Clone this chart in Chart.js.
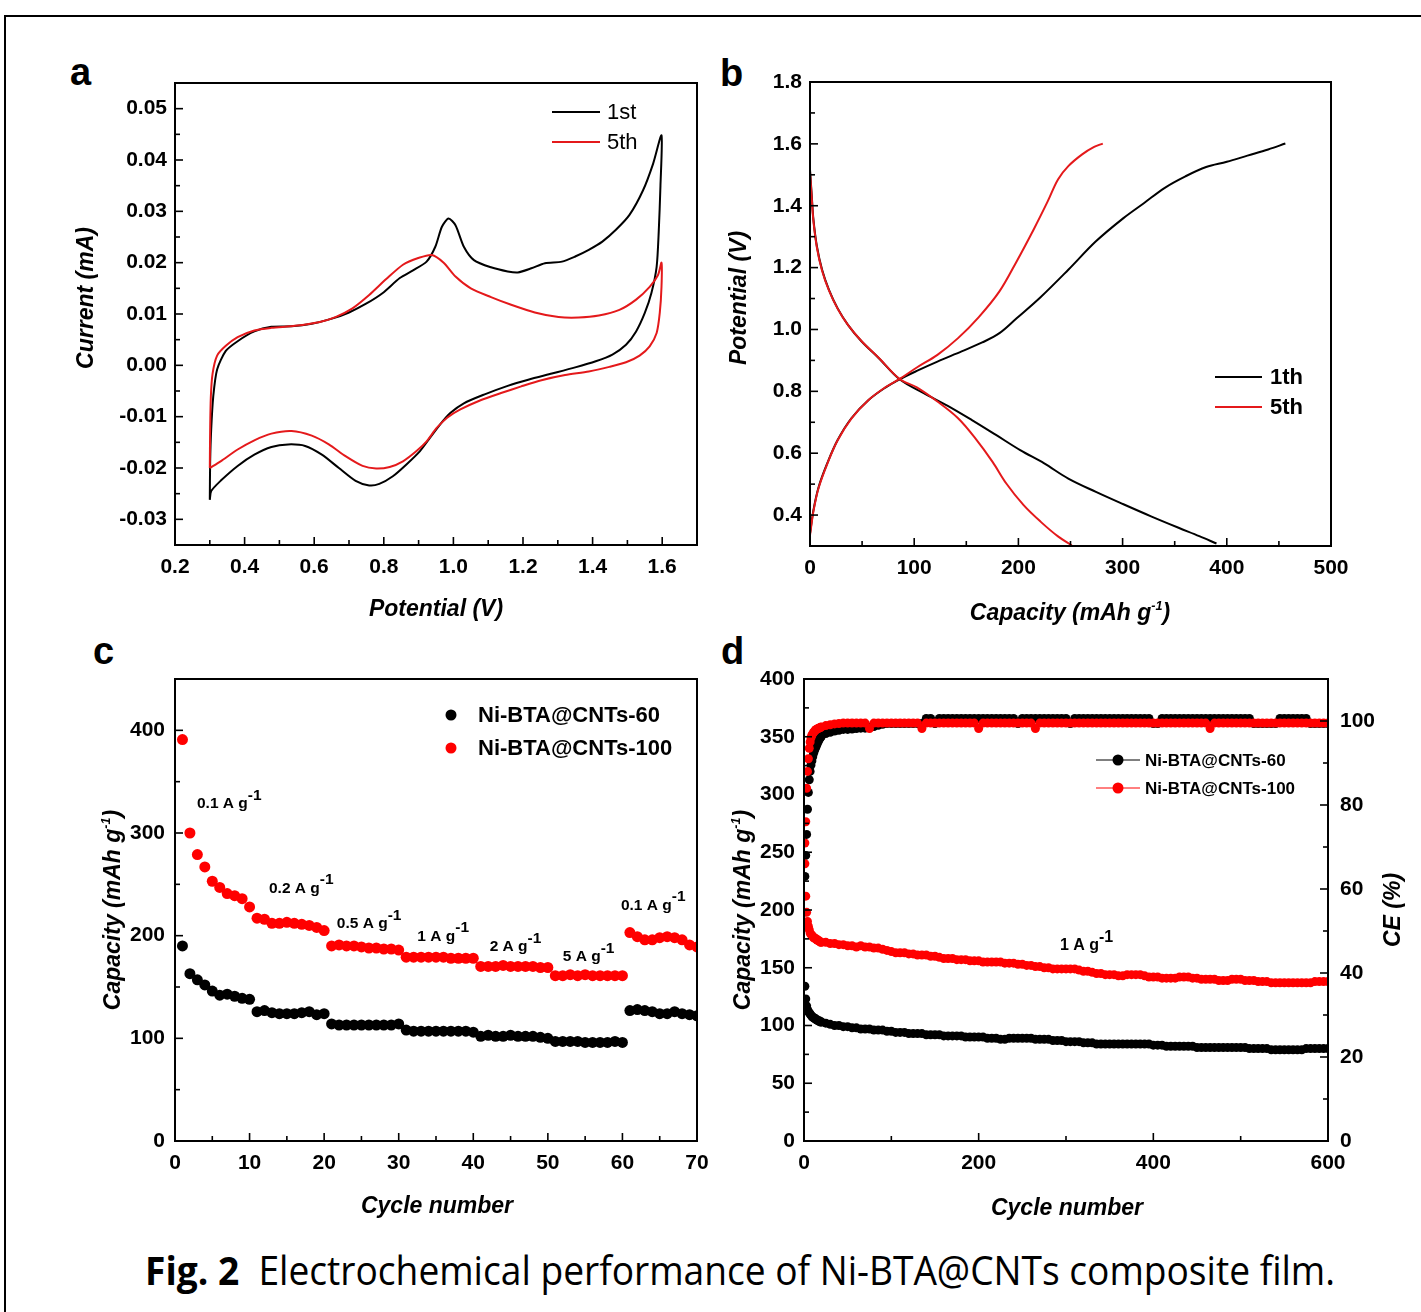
<!DOCTYPE html>
<html><head><meta charset="utf-8">
<script src="https://cdn.jsdelivr.net/npm/chart.js@4.4.0/dist/chart.umd.min.js"></script>
<style>
html,body{margin:0;padding:0;background:#fff;width:1421px;height:1312px;overflow:hidden;position:relative;font-family:"Liberation Sans",Arial,sans-serif;}
#frame{position:absolute;left:4px;top:15px;width:1440px;height:1330px;border:2px solid #000;box-sizing:border-box;}
canvas{position:absolute;}
.lbl{position:absolute;font-weight:bold;font-size:38px;line-height:38px;font-family:"Liberation Sans",Arial,sans-serif;}
#cap{position:absolute;left:145px;top:1245px;white-space:nowrap;font-family:"Open Sans",sans-serif;font-size:40px;line-height:50px;transform-origin:left top;color:#000;}
</style></head><body>
<div id="frame"></div>
<div class="lbl" style="left:70px;top:53px">a</div>
<div class="lbl" style="left:720px;top:54px">b</div>
<div class="lbl" style="left:93px;top:632px">c</div>
<div class="lbl" style="left:721px;top:632px">d</div>
<canvas id="ca" width="690" height="610" style="left:20px;top:20px"></canvas>
<canvas id="cb" width="700" height="610" style="left:710px;top:20px"></canvas>
<canvas id="cc" width="720" height="600" style="left:20px;top:630px"></canvas>
<canvas id="cd" width="700" height="600" style="left:710px;top:630px"></canvas>
<div id="cap"><b>Fig. 2</b>&nbsp; Electrochemical performance of Ni-BTA@CNTs composite film.</div>
<script>
// ---------- Panel a: CV curves ----------
const cv1V = [0.300,0.301,0.304,0.310,0.321,0.346,0.380,0.428,0.477,0.535,0.593,0.651,0.700,0.749,0.797,0.846,0.884,0.923,0.948,0.967,0.986,1.006,1.030,1.059,1.108,1.156,1.185,1.224,1.263,1.312,1.350,1.389,1.428,1.467,1.506,1.545,1.574,1.598,
  1.595,1.590,1.584,1.569,1.550,1.525,1.496,1.457,1.409,1.350,1.283,1.215,1.156,1.088,1.030,0.991,0.962,0.933,0.904,0.865,0.826,0.787,0.758,0.719,0.671,0.622,0.574,0.525,0.477,0.428,0.380,0.331,0.304,0.300];
const cv1I = [-0.0262,-0.0189,-0.0125,-0.0060,-0.0008,0.0028,0.0047,0.0066,0.0075,0.0076,0.0081,0.0091,0.0103,0.0120,0.0141,0.0170,0.0185,0.0202,0.0231,0.0270,0.0286,0.0273,0.0231,0.0205,0.0191,0.0183,0.0181,0.0189,0.0199,0.0202,0.0212,0.0225,0.0241,0.0264,0.0293,0.0341,0.0393,0.0448,
  0.0350,0.0260,0.0192,0.0141,0.0102,0.0066,0.0040,0.0021,0.0008,-0.0004,-0.0016,-0.0028,-0.0040,-0.0057,-0.0074,-0.0093,-0.0115,-0.0141,-0.0167,-0.0193,-0.0216,-0.0231,-0.0234,-0.0225,-0.0200,-0.0174,-0.0157,-0.0154,-0.0159,-0.0174,-0.0196,-0.0225,-0.0245,-0.0262];
const cv5V = [0.300,0.301,0.303,0.308,0.321,0.346,0.380,0.428,0.477,0.545,0.613,0.661,0.710,0.758,0.807,0.855,0.899,0.938,0.972,1.006,1.050,1.108,1.166,1.234,1.302,1.360,1.418,1.477,1.525,1.564,1.588,1.598,
  1.598,1.593,1.584,1.564,1.535,1.496,1.448,1.389,1.321,1.253,1.195,1.137,1.078,1.020,0.982,0.952,0.923,0.894,0.855,0.817,0.778,0.739,0.690,0.642,0.593,0.535,0.477,0.428,0.380,0.331,0.300];
const cv5I = [-0.0200,-0.0126,-0.0061,-0.0016,0.0019,0.0038,0.0055,0.0068,0.0073,0.0077,0.0084,0.0094,0.0111,0.0137,0.0168,0.0196,0.0209,0.0215,0.0200,0.0173,0.0150,0.0133,0.0118,0.0103,0.0094,0.0093,0.0097,0.0108,0.0128,0.0153,0.0176,0.0200,
  0.0153,0.0102,0.0063,0.0037,0.0019,0.0006,-0.0003,-0.0012,-0.0019,-0.0029,-0.0041,-0.0054,-0.0068,-0.0086,-0.0102,-0.0122,-0.0148,-0.0167,-0.0187,-0.0198,-0.0201,-0.0196,-0.0177,-0.0154,-0.0137,-0.0128,-0.0133,-0.0146,-0.0164,-0.0187,-0.0200];
const aXTicks = [0.2,0.4,0.6,0.8,1.0,1.2,1.4,1.6];
const aYTicks = [-0.03,-0.02,-0.01,0,0.01,0.02,0.03,0.04,0.05];

// ---------- Panel b: charge/discharge ----------
const bChgCap1 = [0,3.3,8.3,16.5,26.4,39.7,56.2,72.7,86.0,102.5,122.3,145.5,165.3,181.8,198.3,221.5,247.9,274.4,300.8,320.7,340.5,360.3,380.2,400.0,419.8,439.7,456.2];
const bChgV1   = [0.340,0.416,0.491,0.567,0.642,0.713,0.772,0.813,0.839,0.866,0.896,0.929,0.958,0.988,1.036,1.105,1.193,1.285,1.360,1.409,1.458,1.495,1.525,1.542,1.562,1.582,1.601];
const bDisCap1 = [0,1.7,3.3,6.6,11.6,18.2,26.4,36.4,49.6,66.1,86.0,109.1,132.2,155.4,178.5,201.7,224.8,247.9,274.4,300.8,327.3,353.7,373.6,390.1];
const bDisV1   = [1.517,1.431,1.355,1.269,1.193,1.128,1.069,1.015,0.961,0.907,0.839,0.794,0.753,0.707,0.659,0.610,0.567,0.518,0.475,0.435,0.396,0.359,0.332,0.308];
const bChgCap5 = [0,3.3,8.3,16.5,26.4,39.7,56.2,72.7,86.0,102.5,122.3,142.1,162.0,181.8,198.3,214.9,228.1,238.0,247.9,261.2,272.7,281.0];
const bChgV5   = [0.335,0.412,0.488,0.565,0.641,0.712,0.772,0.814,0.840,0.877,0.918,0.972,1.040,1.123,1.220,1.325,1.414,1.485,1.528,1.566,1.590,1.601];
const bDisCap5 = [0,1.7,3.3,6.6,11.6,18.2,26.4,36.4,49.6,66.1,86.0,102.5,122.3,142.1,158.7,175.2,188.4,205.0,221.5,238.0,251.2];
const bDisV5   = [1.510,1.425,1.350,1.265,1.190,1.126,1.068,1.015,0.962,0.908,0.840,0.813,0.767,0.713,0.648,0.572,0.502,0.432,0.378,0.331,0.302];
const bXTicks = [0,100,200,300,400,500];
const bYTicks = [0.4,0.6,0.8,1.0,1.2,1.4,1.6,1.8];

// ---------- Panel c: rate capability ----------
const cCycles = [1,2,3,4,5,6,7,8,9,10,11,12,13,14,15,16,17,18,19,20,21,22,23,24,25,26,27,28,29,30,31,32,33,34,35,36,37,38,39,40,41,42,43,44,45,46,47,48,49,50,51,52,53,54,55,56,57,58,59,60,61,62,63,64,65,66,67,68,69,70];
const cCap60 = [190,163,157,152,146,142,143,141,139,138, 126,127,125,124,124,124,125,126,123,124, 114,113,113,113,113,113,113,113,113,114, 108,107,107,107,107,107,107,107,107,106, 102,103,102,102,103,102,102,102,101,100, 97,97,97,97,96,96,96,96,97,96, 127,128,127,126,124,124,126,124,123,122];
const cCap100 = [391,300,279,267,253,247,241,239,236,228, 217,216,212,212,213,212,211,210,208,205, 190,191,190,190,189,188,188,187,187,186, 179,179,179,179,179,179,178,178,178,178, 170,170,170,171,170,170,170,170,169,169, 161,161,162,161,162,161,161,161,161,161, 203,199,196,196,198,199,198,196,191,189];
const cRates = ['0.1','0.2','0.5','1','2','5','0.1'];
const cXTicks = [0,10,20,30,40,50,60,70];
const cYTicks = [0,100,200,300,400];

// ---------- Panel d: cycling ----------
const dCycles = [1,2,3,4,5,6,7,8,9,10,11,12,13,14,15,16,17,18,19,20,
 25,30,35,40,45,50,55,60,65,70,75,80,85,90,95,100,105,110,115,120,125,130,135,140,145,150,155,160,165,170,
 175,180,185,190,195,200,205,210,215,220,225,230,235,240,245,250,255,260,265,270,275,280,285,290,295,300,305,310,315,320,
 325,330,335,340,345,350,355,360,365,370,375,380,385,390,395,400,405,410,415,420,425,430,435,440,445,450,455,460,465,470,
 475,480,485,490,495,500,505,510,515,520,525,530,535,540,545,550,555,560,565,570,575,580,585,590,595,600];
const dCap100 = [258,212,198,190,186,183,180,179,178,177,176,176,175,175,174,174,173,173,172,172,
 172,171,171,170,170,169,169,168,169,168, 168,167,167,166,165,164,163,163,163,162, 162,161,161,161,160,160,159,158,158,158,
 157,157,157,156,156,156,155,155,155,155, 155,154,154,154,153,153,152,152,151,151, 150,150,149,149,149,149,149,149,148,147,
 147,146,145,145,144,144,144,143,143,144, 144,144,144,143,142,142,142,141,141,141, 141,142,142,142,141,141,140,140,140,140,
 139,139,139,140,140,140,139,139,139,138, 138,138,137,137,137,137,137,137,137,137, 137,137,138,138,138,138];
const dCap60 = [134,123,117,114,112,111,110,109,108,107,107,106,106,105,105,104,104,104,103,103,
 102,101,100,100,99,99,98,98,97,97, 97,96,96,96,95,95,94,94,94,93, 93,93,93,92,92,92,92,91,91,91,
 91,91,90,90,90,90,90,89,89,89, 88,88,89,89,89,89,89,89,88,88, 88,88,87,87,87,86,86,86,86,85,
 85,85,84,84,84,84,84,84,84,84, 84,84,84,84,84,83,83,83,82,82, 82,82,82,82,82,81,81,81,81,81,
 81,81,81,81,81,81,81,80,80,80, 80,80,79,79,79,79,79,79,79,79, 80,80,80,80,80,80];
const dCE100 = [66,76,84,88,91,93.5,95,96,96.6,97,97.3,97.6,97.8,98,98.1,98.2,98.3,98.4,98.5,98.6,
 98.9,99.1,99.3,99.4,99.5,99.5,99.5,99.5,99.5,99.5, 98.2,99.5,99.5,99.5,99.5,99.5,99.5,99.5,99.5,99.5, 99.5,99.5,98.2,99.5,99.5,99.5,99.5,99.5,99.5,99.5,
 99.5,99.5,99.5,99.5,99.5,98.2,99.5,99.5,99.5,99.5, 99.5,99.5,99.5,99.5,99.5,99.5,99.5,99.5,98.2,99.5, 99.5,99.5,99.5,99.5,99.5,99.5,99.5,99.5,99.5,99.5,
 99.5,99.5,99.5,99.5,99.5,99.5,99.5,99.5,99.5,99.5, 99.5,99.5,99.5,99.5,99.5,99.5,99.5,99.5,99.5,99.5, 99.5,99.5,99.5,99.5,99.5,99.5,99.5,99.5,98.2,99.5,
 99.5,99.5,99.5,99.5,99.5,99.5,99.5,99.5,99.5,99.5, 99.5,99.5,99.5,99.5,99.5,99.5,99.5,99.5,99.5,99.5, 99.5,99.5,99.5,99.5,99.5,99.5];
const dCE60 = [63,68,73,79,83,86,88,89.5,90.5,91.5,92.3,93,93.5,94,94.5,95,95.4,95.8,96.1,96.4,
 97,97.3,97.6,97.8,98,98,98.1,98.2,98.3,98.3, 98.5,98.7,99,99.2,99.4,99.4,99.4,99.4,99.4,99.4, 99.4,99.4,99.4,100.6,100.6,99.4,100.6,100.6,100.6,100.6,
 100.6,100.6,100.6,100.6,100.6,100.6,100.6,100.6,100.6,100.6, 100.6,100.6,100.6,100.6,99.4,100.6,100.6,100.6,100.6,100.6, 100.6,100.6,100.6,100.6,100.6,100.6,99.4,100.6,100.6,100.6,
 100.6,100.6,100.6,100.6,100.6,100.6,100.6,100.6,100.6,100.6, 100.6,100.6,100.6,100.6,100.6,99.4,99.4,100.6,100.6,100.6, 100.6,100.6,100.6,100.6,100.6,100.6,100.6,100.6,100.6,100.6,
 100.6,100.6,100.6,100.6,100.6,100.6,100.6,100.6,99.4,99.4, 99.4,99.4,99.4,99.4,100.6,100.6,100.6,100.6,100.6,100.6, 100.6,99.4,99.4,99.4,99.4,99.4];
const dXTicks = [0,200,400,600];
const dYTicks = [0,50,100,150,200,250,300,350,400];
const dY2Ticks = [0,20,40,60,80,100];

const seriesNames = ['Ni-BTA@CNTs-60','Ni-BTA@CNTs-100'];
const cycleNames = ['1st','5th'];
const cycleNamesB = ['1th','5th'];

// ---------- helpers ----------
const RED = '#ff0000', REDL = '#e4191b', BLK = '#000000';
const FAM = '"Liberation Sans", Arial, Helvetica, sans-serif';
Chart.defaults.font.family = FAM;
Chart.defaults.color = '#000';

const pairs = (xs, ys) => xs.map((x, i) => ({x: x, y: ys[i]}));

function drawRich(ctx, segs, x, y, rot, size, style, anchor, supScale, supRaise) {
  ctx.save(); ctx.translate(x, y); ctx.rotate(rot || 0);
  const font = s => `${style} bold ${s}px ${FAM}`;
  let w = 0;
  for (const [t, sup] of segs) { ctx.font = font(sup ? size * supScale : size); w += ctx.measureText(t).width; }
  let cx = anchor === 'center' ? -w / 2 : 0;
  const by = anchor === 'center' ? size * 0.36 : 0;
  ctx.fillStyle = '#000'; ctx.textAlign = 'left'; ctx.textBaseline = 'alphabetic';
  for (const [t, sup] of segs) {
    ctx.font = font(sup ? size * supScale : size);
    ctx.fillText(t, cx, by - (sup ? size * supRaise : 0));
    cx += ctx.measureText(t).width;
  }
  ctx.restore();
}

const deco = {
  id: 'deco',
  afterDraw(chart, args, o) {
    const ctx = chart.ctx, ca = chart.chartArea, ox = o.ox, oy = o.oy;
    ctx.save();
    ctx.strokeStyle = '#000'; ctx.lineWidth = 1.6;
    for (const id in chart.scales) {
      const s = chart.scales[id];
      const vals = s.ticks.map(t => t.value);
      const minors = [];
      for (let i = 0; i < vals.length - 1; i++) minors.push((vals[i] + vals[i + 1]) / 2);
      const draw = (v, len) => {
        const p = s.getPixelForValue(v);
        ctx.beginPath();
        if (s.position === 'bottom') { ctx.moveTo(p, ca.bottom); ctx.lineTo(p, ca.bottom - len); }
        else if (s.position === 'left') { ctx.moveTo(ca.left, p); ctx.lineTo(ca.left + len, p); }
        else { ctx.moveTo(ca.right, p); ctx.lineTo(ca.right - len, p); }
        ctx.stroke();
      };
      vals.forEach(v => draw(v, 8)); minors.forEach(v => draw(v, 5));
    }
    ctx.lineWidth = 2;
    ctx.strokeRect(ca.left, ca.top, ca.right - ca.left, ca.bottom - ca.top);
    (o.texts || []).forEach(t => drawRich(ctx, t.segs, t.x - ox, t.y - oy, t.rot || 0, t.size || 23, 'italic', 'center', 0.55, 0.45));
    (o.legend || []).forEach(l => {
      const y = l.y - oy;
      ctx.strokeStyle = l.color; ctx.fillStyle = l.color;
      if (l.x1 !== undefined) { ctx.lineWidth = l.lw || 2; ctx.beginPath(); ctx.moveTo(l.x1 - ox, y); ctx.lineTo(l.x2 - ox, y); ctx.stroke(); }
      if (l.dx !== undefined) { ctx.beginPath(); ctx.arc(l.dx - ox, y, l.r, 0, Math.PI * 2); ctx.fill(); }
      ctx.fillStyle = '#000'; ctx.font = `${l.weight} ${l.size}px ${FAM}`;
      ctx.textBaseline = 'middle'; ctx.textAlign = 'left';
      ctx.fillText(l.text, l.tx - ox, y + 1);
    });
    (o.notes || []).forEach(n => {
      const px = chart.scales.x.getPixelForValue(n.x), py = chart.scales.y.getPixelForValue(n.y);
      drawRich(ctx, [[n.rate + ' A g'], ['-1', 1]], px, py, 0, n.size || 15.5, 'normal', 'left', 1, 0.55);
    });
    ctx.restore();
  }
};
Chart.register(deco);

function lin(pos, min, max, tickVals, fmt, size, pad) {
  return {
    type: 'linear', position: pos, min: min, max: max,
    grid: {display: false, drawTicks: false}, border: {display: false},
    afterBuildTicks: s => { s.ticks = tickVals.map(v => ({value: v})); },
    afterFit: s => { if (pos === 'bottom') s.height = size; else s.width = size; },
    ticks: {padding: pad, autoSkip: false, maxRotation: 0, color: '#000', font: {size: 21, weight: 'bold', family: FAM}, callback: v => fmt(v)}
  };
}
function base(padTop, padRight, scales, decoOpts) {
  return {
    responsive: false, animation: false, devicePixelRatio: 1, events: [],
    layout: {padding: {top: padTop, right: padRight, left: 0, bottom: 0}},
    scales: scales,
    plugins: {legend: {display: false}, tooltip: {enabled: false}, deco: decoOpts}
  };
}
const lineDs = (d, c, t) => ({data: d, showLine: true, borderColor: c, backgroundColor: c, borderWidth: 2, pointRadius: 0, tension: t, fill: false});
const dotDs = (d, c, r) => ({data: d, showLine: false, borderColor: c, backgroundColor: c, borderWidth: 0, pointRadius: r, pointHoverRadius: r});

// ---------- chart a ----------
new Chart(document.getElementById('ca'), {
  type: 'scatter',
  data: {datasets: [lineDs(pairs(cv5V, cv5I), REDL, 0.25), lineDs(pairs(cv1V, cv1I), BLK, 0.25)]},
  options: base(63, 13, {
    x: lin('bottom', 0.2, 1.7, aXTicks, v => v.toFixed(1), 85, 10),
    y: lin('left', -0.035, 0.055, aYTicks, v => v.toFixed(2), 155, 8)
  }, {
    ox: 20, oy: 20,
    texts: [{segs: [['Potential (V)']], x: 436, y: 608}, {segs: [['Current (mA)']], x: 85, y: 298, rot: -Math.PI / 2}],
    legend: [
      {color: BLK, x1: 552, x2: 600, y: 112, tx: 607, text: cycleNames[0], size: 22, weight: 'normal'},
      {color: REDL, x1: 552, x2: 600, y: 142, tx: 607, text: cycleNames[1], size: 22, weight: 'normal'}
    ]
  })
});

// ---------- chart b ----------
new Chart(document.getElementById('cb'), {
  type: 'scatter',
  data: {datasets: [
    lineDs(pairs(bChgCap5, bChgV5), REDL, 0.35), lineDs(pairs(bDisCap5, bDisV5), REDL, 0.35),
    lineDs(pairs(bChgCap1, bChgV1), BLK, 0.35), lineDs(pairs(bDisCap1, bDisV1), BLK, 0.35)
  ]},
  options: base(62, 79, {
    x: lin('bottom', 0, 500, bXTicks, v => String(v), 84, 10),
    y: lin('left', 0.3, 1.8, bYTicks, v => v.toFixed(1), 100, 8)
  }, {
    ox: 710, oy: 20,
    texts: [{segs: [['Capacity (mAh g'], ['-1', 1], [')']], x: 1070, y: 612}, {segs: [['Potential (V)']], x: 738, y: 298, rot: -Math.PI / 2}],
    legend: [
      {color: BLK, x1: 1215, x2: 1262, y: 377, tx: 1270, text: cycleNamesB[0], size: 22, weight: 'bold'},
      {color: REDL, x1: 1215, x2: 1262, y: 407, tx: 1270, text: cycleNamesB[1], size: 22, weight: 'bold'}
    ]
  })
});

// ---------- chart c ----------
new Chart(document.getElementById('cc'), {
  type: 'scatter',
  data: {datasets: [dotDs(pairs(cCycles, cCap100), RED, 5.5), dotDs(pairs(cCycles, cCap60), BLK, 5.5)]},
  options: base(49, 43, {
    x: lin('bottom', 0, 70, cXTicks, v => String(v), 89, 10),
    y: lin('left', 0, 450, cYTicks, v => String(v), 155, 10)
  }, {
    ox: 20, oy: 630,
    texts: [{segs: [['Cycle number']], x: 437, y: 1205}, {segs: [['Capacity (mAh g'], ['-1', 1], [')']], x: 112, y: 910, rot: -Math.PI / 2}],
    legend: [
      {color: BLK, dx: 451, r: 5.5, y: 715, tx: 478, text: seriesNames[0], size: 22, weight: 'bold'},
      {color: RED, dx: 451, r: 5.5, y: 748, tx: 478, text: seriesNames[1], size: 22, weight: 'bold'}
    ],
    notes: [
      {rate: cRates[0], x: 2.95, y: 324}, {rate: cRates[1], x: 12.6, y: 242}, {rate: cRates[2], x: 21.7, y: 207},
      {rate: cRates[3], x: 32.5, y: 195}, {rate: cRates[4], x: 42.2, y: 185}, {rate: cRates[5], x: 52, y: 175},
      {rate: cRates[6], x: 59.8, y: 225}
    ]
  })
});

// ---------- chart d ----------
new Chart(document.getElementById('cd'), {
  type: 'scatter',
  data: {datasets: [
    Object.assign(dotDs(pairs(dCycles, dCE100), RED, 4.5), {yAxisID: 'y2'}),
    Object.assign(dotDs(pairs(dCycles, dCE60), BLK, 4.5), {yAxisID: 'y2'}),
    dotDs(pairs(dCycles, dCap100), RED, 4.5),
    dotDs(pairs(dCycles, dCap60), BLK, 4.5)
  ]},
  options: base(49, 0, {
    x: lin('bottom', 0, 600, dXTicks, v => String(v), 89, 10),
    y: lin('left', 0, 400, dYTicks, v => String(v), 94, 9),
    y2: lin('right', 0, 110, dY2Ticks, v => String(v), 82, 12)
  }, {
    ox: 710, oy: 630,
    texts: [{segs: [['Cycle number']], x: 1067, y: 1207}, {segs: [['Capacity (mAh g'], ['-1', 1], [')']], x: 742, y: 910, rot: -Math.PI / 2},
            {segs: [['CE (%)']], x: 1392, y: 910, rot: -Math.PI / 2}],
    legend: [
      {color: BLK, x1: 1096, x2: 1140, lw: 1, dx: 1118, r: 5.5, y: 760, tx: 1145, text: seriesNames[0], size: 17, weight: 'bold'},
      {color: RED, x1: 1096, x2: 1140, lw: 1, dx: 1118, r: 5.5, y: 788, tx: 1145, text: seriesNames[1], size: 17, weight: 'bold'}
    ],
    notes: [{rate: '1', x: 293, y: 165, size: 16}]
  })
});

// caption fit
const cap = document.getElementById('cap');
const cw = cap.getBoundingClientRect().width;
cap.style.transform = 'scaleX(' + (1190 / cw) + ')';
</script>
</body></html>
